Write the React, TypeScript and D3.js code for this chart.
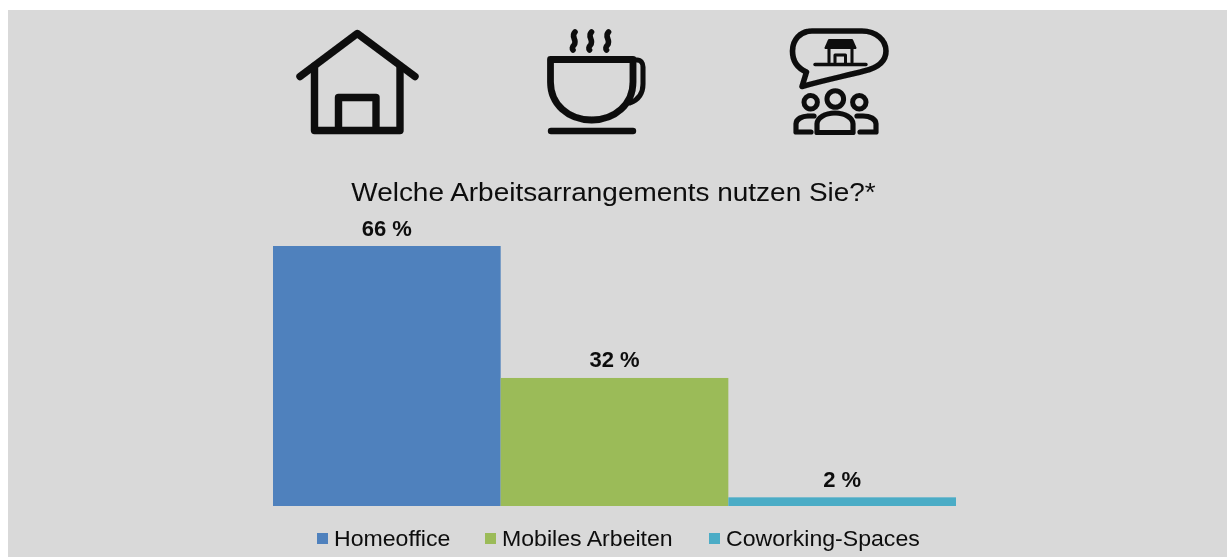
import React from "react";
import * as d3 from "d3";

const categories = ["Homeoffice", "Mobiles Arbeiten", "Coworking-Spaces"];
const barValues = [66, 32.5, 2.2];
const valueLabels = ["66 %", "32 %", "2 %"];
const colors = ["#4f81bd", "#9bbb59", "#4bacc6"];
const legendSwatchX = [317, 485, 709];
const title = "Welche Arbeitsarrangements nutzen Sie?*";

const x = d3.scaleBand<string>().domain(categories).range([273, 956]).padding(0);
const y = d3.scaleLinear().domain([0, 66]).range([506, 246]);
const FONT = "'Liberation Sans', Arial, sans-serif";
const INK = "#0c0c0c";

function HouseIcon() {
  return (
    <g fill="none" stroke={INK} strokeWidth={7.4} strokeLinecap="round" strokeLinejoin="round">
      <path d="M300 76.5 L357.3 33.5 L415 76.5" />
      <path d="M314.5 66 V130.5 H400 V66" />
      <path d="M338.5 130 V97.5 H376 V130" />
    </g>
  );
}

function CupIcon() {
  return (
    <g fill="none" stroke={INK} strokeLinecap="round" strokeLinejoin="round">
      <path strokeWidth={6.8} d="M550.5 59.5 H633 V82 C633 104 615 120 591.7 120 C568 120 550.5 104 550.5 82 Z" />
      <path strokeWidth={5} d="M634 60 H637 C641 60 643 63 643 67 V84 C643 94 638 100 630 103" />
      <path strokeWidth={6.4} d="M551 131 H633" />
      <path strokeWidth={5.6} d="M575 32 C570 37 578 40 574 45 C572 47 572 49 573 50" />
      <path strokeWidth={5.6} d="M591.5 32 C586.5 37 594.5 40 590.5 45 C588.5 47 588.5 49 589.5 50" />
      <path strokeWidth={5.6} d="M608.5 32 C603.5 37 611.5 40 607.5 45 C605.5 47 605.5 49 606.5 50" />
    </g>
  );
}

function CoworkIcon() {
  return (
    <g fill="none" stroke={INK} strokeLinecap="round" strokeLinejoin="round">
      <path strokeWidth={5.6} d="M812 31 H862 C876 31 886 40 886 51 C886 62 877 68 864 71 C845 76 825 80 802 86.5 L806.5 72 C797 68 792.5 60 792.5 51 C792.5 40 800 31 812 31 Z" />
      <path strokeWidth={3.4} d="M815 64.5 H866" />
      <path strokeWidth={3} d="M829 63 V48 M852 63 V48 M835 63 V55 H845.5 V63" />
      <path strokeWidth={2} fill={INK} d="M825.5 48 L829 40 H852 L855.5 48 Z" />
      <circle cx={810.7} cy={102.3} r={6.7} strokeWidth={5} />
      <circle cx={835.3} cy={99} r={8.3} strokeWidth={5} />
      <circle cx={859.3} cy={102.3} r={6.7} strokeWidth={5} />
      <path strokeWidth={5.2} d="M811 132 H796 V124 C796 119 802 116 809 116 H814" />
      <path strokeWidth={5.2} d="M817 132.5 H853 V124 C853 118 845 113 835 113 C825 113 817 118 817 124 Z" />
      <path strokeWidth={5.2} d="M860 132 H876 V124 C876 119 870 116 863 116 H857" />
    </g>
  );
}

export default function App() {
  return (
    <svg
      width={1227}
      height={557}
      style={{ position: "absolute", left: 0, top: 0, display: "block" }}
      fontFamily={FONT}
    >
      <defs>
        <filter id="soft" x="0" y="0" width="1227" height="557" filterUnits="userSpaceOnUse">
          <feGaussianBlur stdDeviation="0.45" />
        </filter>
      </defs>
      <rect x={8} y={10} width={1219} height={547} fill="#d9d9d9" />
      <g filter="url(#soft)">
        <HouseIcon />
        <CupIcon />
        <CoworkIcon />
        <text
          transform="translate(613.5,201) scale(1.075,1)"
          textAnchor="middle"
          fontSize={26}
          fill={INK}
        >
          {title}
        </text>
        {categories.map((c, i) => (
          <g key={c}>
            <rect x={x(c)} y={y(barValues[i])} width={x.bandwidth()} height={y(0) - y(barValues[i])} fill={colors[i]} />
            <text
              x={x(c)! + x.bandwidth() / 2}
              y={y(barValues[i]) - 10.5}
              textAnchor="middle"
              fontSize={22}
              fontWeight="bold"
              fill={INK}
            >
              {valueLabels[i]}
            </text>
            <rect x={legendSwatchX[i]} y={533} width={11} height={11} fill={colors[i]} />
            <text
              transform={`translate(${legendSwatchX[i] + 17},546) scale(1.05,1)`}
              fontSize={22}
              fill={INK}
            >
              {c}
            </text>
          </g>
        ))}
      </g>
    </svg>
  );
}
